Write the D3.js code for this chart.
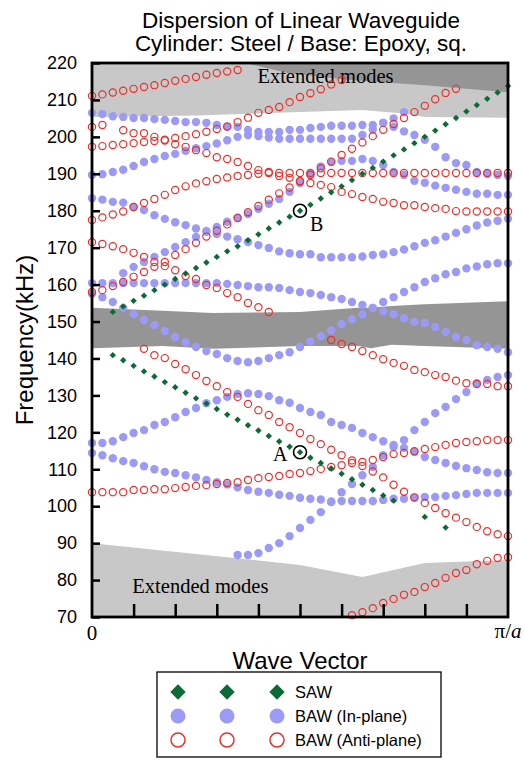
<!DOCTYPE html>
<html lang="en">
<head>
<meta charset="UTF-8">
<title>Dispersion of Linear Waveguide</title>
<script src="https://cdn.jsdelivr.net/npm/d3@7"></script>
<style>
  body { margin: 0; background: #fff; }
  svg { display: block; }
  .tick text { font-family: "Liberation Sans", Arial, sans-serif; font-size: 18px; fill: #000; }
</style>
</head>
<body>
<svg id="chart"></svg>
<script>
    /* data: frequency (kHz) of each branch, one value per k sample (k = i/40 of pi/a), null = no point */
    const span = (start, vals) => Array(start).fill(null).concat(vals);

    const yTicks = [70, 80, 90, 100, 110, 120, 130, 140, 150, 160, 170, 180, 190, 200, 210, 220];
    const xTicks = [0.1, 0.2, 0.3, 0.4, 0.5, 0.6, 0.7, 0.8, 0.9];

    /* SAW */
    const sawUpper = span(2, [152.6, 154.1, 155.6, 157.0, 158.5, 160.0, 161.5, 163.0, 164.5, 166.0, 167.5, 169.0, 170.4,
        172.0, 173.6, 175.2, 176.8, 178.4, 180.0, 181.6, 183.3, 185.0, 186.6, 188.3, 190.0, 191.6, 193.3, 195.0, 196.6,
        198.3, 200.0, 201.7, 203.4, 205.1, 206.9, 208.6, 210.3, 212.0, 213.8]);
    const sawLower = span(2, [140.9, 139.5, 138.0, 136.5, 135.1, 133.6, 132.2, 130.7, 129.2, 127.8, 126.3, 124.8, 123.4,
        121.9, 120.5, 119.0, 117.5, 116.1, 114.6, 113.1, 111.7, 110.2, 108.8, 107.3, 105.8, 104.4, 102.9, 101.5,
        null, null, 97.1, null, 94.2]);

    /* BAW in-plane */
    const inPlane1 = [114.4, 113.8, 113.0, 112.2, 111.7, 110.8, 110.0, 109.3, 109.0, 108.4, 107.8, 107.1, 106.5, 105.9,
        105.1, 104.4, 103.9, 103.6, 103.1, 102.8, 102.3, 102.0, 101.8, 101.3, 101.4, 101.4, 101.4, 101.4, 101.7, 102.0,
        102.0, 102.3, 102.5, 102.5, 102.8, 103.0, 103.3, 103.6, 103.6, 103.6, 103.6];
    const inPlane2 = [117.1, 117.1, 117.6, 118.7, 119.8, 120.6, 122.0, 122.8, 124.1, 125.5, 126.6, 127.9, 128.7, 129.6,
        130.4, 130.6, 130.4, 129.8, 128.7, 128.0, 126.6, 125.5, 124.7, 122.8, 122.0, 121.2, 119.8, 118.7, 117.6, 116.6,
        115.8, 114.7, 113.3, 112.5, 111.7, 110.9, 110.3, 109.8, 109.2, 109.0, 109.0];
    const inPlane3 = span(14, [86.8, 86.8, 87.3, 88.7, 90.0, 91.9, 94.1, 96.3, 98.4, 101.1, 103.8, 106.0, 108.4, 110.6,
        113.8, 116.0, 117.9, 120.6, 122.8, 125.2, 126.9, 129.0, 130.9, 133.3, 134.2, 135.0, 135.5]);
    const inPlane4 = [160.4, 160.4, 160.4, 160.4, 160.4, 160.4, 160.4, 160.4, 160.4, 160.4, 160.4, 160.4, 160.4, 160.2,
        159.9, 159.6, 159.3, 159.3, 159.1, 158.5, 158.0, 157.7, 157.2, 156.6, 156.1, 155.3, 154.5, 153.7, 152.8, 152.0,
        150.9, 149.9, 149.6, 148.5, 147.2, 145.8, 145.0, 143.6, 143.1, 142.6, 141.7];
    const inPlane5 = [157.5, 156.6, 155.3, 153.7, 152.0, 150.4, 149.1, 147.4, 145.8, 144.4, 143.1, 142.0, 141.2, 140.1,
        139.3, 139.0, 139.3, 140.1, 140.9, 141.7, 143.1, 144.6, 146.0, 147.6, 149.3, 150.6, 151.9, 153.7, 155.3, 156.6,
        158.0, 159.3, 160.7, 161.7, 162.8, 163.4, 164.4, 164.9, 165.5, 165.8, 165.8];
    const inPlane6 = [183.4, 183.0, 182.4, 182.2, 181.0, 180.2, 178.8, 177.8, 176.9, 176.1, 175.2, 174.5, 173.7, 173.0,
        172.3, 171.5, 170.7, 169.9, 169.0, 168.5, 168.2, 168.2, 167.4, 167.4, 167.4, 167.4, 167.6, 168.0, 168.2, 168.8,
        169.5, 170.4, 171.3, 172.0, 173.0, 174.0, 175.0, 176.0, 176.8, 177.3, 177.8];
    const inPlane7 = span(3, [163.1, 164.8, 166.1, 167.5, 168.8, 170.2, 171.5, 172.9, 174.3, 175.6, 177.0, 178.2, 179.1,
        180.5, 181.9, 183.2, 185.1, 187.5, 190.0, 192.0, 193.2, 193.5, 193.5, 194.0, 193.5, 192.4, 190.5, 189.7, 188.1,
        187.6, 186.8, 186.2, 185.7, 185.1, 184.6, 184.6, 184.3, 184.3]);
    const inPlane8 = [189.7, 189.9, 190.5, 191.1, 192.1, 193.2, 194.0, 194.8, 195.4, 196.2, 196.9, 197.5, 198.2, 199.1,
        200.0, 200.5, 200.2, 199.8, 199.5, 199.5, 199.5, 199.5, 199.5, 199.5, 199.5, 199.5, 200.5, 202.0, 203.8, 205.0,
        206.7];
    const inPlane9 = [206.5, 206.2, 205.6, 205.4, 205.1, 205.1, 204.8, 204.6, 204.3, 204.0, 204.0, 203.8, 203.2, 202.7,
        202.7, 201.9, 201.3, 201.3, 201.3, 201.9, 201.9, 202.4, 202.7, 203.0, 203.0, 203.0, 203.2, 203.2, 203.8, 202.7,
        201.5, 200.5, 199.2, 197.3, 194.5, 192.9, 192.4, 190.5, 190.0, 189.7, 189.4];

    /* BAW anti-plane */
    const antiPlane1 = [103.8, 103.8, 103.8, 103.8, 104.4, 104.4, 104.6, 104.6, 104.9, 105.2, 105.5, 105.7, 106.0, 106.3,
        106.5, 107.1, 107.6, 107.9, 108.2, 108.7, 109.0, 109.5, 110.1, 110.6, 111.1, 111.7, 112.0, 112.5, 113.3, 114.1,
        114.4, 114.9, 115.5, 116.0, 116.6, 117.1, 117.4, 117.6, 117.9, 117.9, 117.9];
    const antiPlane2 = span(5, [142.6, 140.9, 140.1, 138.5, 137.1, 135.5, 133.9, 132.5, 130.9, 129.6, 127.7, 126.0, 124.7,
        122.8, 121.4, 119.8, 118.2, 116.8, 115.3, 113.8, 112.4, 110.9, 109.4, 107.8, 105.8, 103.9, 102.4, 100.9, 99.5,
        98.1, 96.9, 95.7, 94.4, 93.2, 92.4, 91.9]);
    const antiPlane3 = span(25, [70.5, 71.3, 72.4, 73.8, 74.9, 76.0, 76.8, 78.1, 79.2, 80.6, 81.9, 82.7, 84.3, 85.2,
        86.0, 86.2]);
    const antiPlane4 = span(23, [145.0, 143.9, 143.1, 142.0, 140.9, 139.8, 138.8, 138.0, 136.9, 136.3, 135.5, 135.0,
        134.0, 133.3, 133.1, 133.1, 132.5, 132.5]);
    const antiPlane5 = [171.5, 171.0, 170.4, 169.6, 168.6, 167.5, 166.1, 165.0, 163.9, 162.3, 161.5, 159.9, 159.1, 157.7,
        156.6, 155.0, 153.9, 152.6];
    const antiPlane6 = [158.0, 158.5, 159.6, 160.7, 162.1, 163.4, 164.8, 166.1, 168.0, 169.6, 171.3, 173.0, 174.6, 176.3,
        178.0, 179.6, 181.3, 183.0, 184.7, 186.3, 188.0, 189.7, 191.5, 193.3, 195.1, 196.8, 198.5, 200.2, 201.9, 203.5,
        205.1, 206.7, 208.4, 210.2, 211.9, 213.0];
    const antiPlane7 = [177.5, 178.2, 179.0, 179.8, 181.0, 182.1, 183.2, 184.3, 185.6, 186.6, 187.4, 188.0, 188.6, 189.0,
        189.4, 189.7, 190.0, 190.2, 190.2, 190.2, 190.2, 190.2, 190.2, 190.2, 190.2, 190.2, 190.2, 190.2, 190.2, 190.2,
        190.2, 190.2, 190.2, 190.2, 190.2, 190.2, 190.2, 190.2, 190.2, 190.2, 190.2];
    const antiPlane8 = [202.7, 203.2, null, 201.8, 201.0, 201.0, 200.0, 199.0, 198.0, 197.3, 196.4, 195.6, 194.5, 194.0,
        193.2, 192.1, 191.0, 190.5, 189.4, 188.9, 188.0, 187.5, 187.0, 186.4, 185.1, 184.5, 183.7, 183.2, 182.4, 182.1,
        181.5, 181.5, 181.0, 180.7, 180.5, 179.9, 179.8, 179.8, 179.8, 179.8, 179.8];
    const antiPlane9 = [197.3, 197.5, 197.8, 198.0, 198.3, 198.6, 198.9, 199.2, 199.7, 200.2, 200.7, 201.4, 202.1, 202.8,
        204.0, 205.2, 206.5, 207.3, 208.1, 209.4, 210.8, 211.8, 212.9, 214.2, 215.4];
    const antiPlane10 = [211.1, 211.5, 212.0, 212.5, 213.0, 213.5, 214.0, 214.6, 215.2, 215.7, 216.2, 216.8, 217.3, 217.7, 218.1];

    /* shaded "extended modes" regions: [k, lower f, upper f] */
    const extTopLight = [[0, 205.4, 220], [0.25, 205.8, 220], [0.5, 206.7, 220], [0.65, 207.3, 220], [0.75, 206.3, 220],
        [0.8, 205.4, 220], [1, 205.2, 220]];
    const extTopDark = [[0.37, 220, 220], [0.47, 217.3, 220], [0.62, 215.4, 220], [0.8, 214.0, 220], [1, 212.1, 220]];
    const gapBand = [[0, 142.8, 153.7], [0.17, 143.4, 152.9], [0.29, 142.6, 152.3], [0.5, 143.4, 152.6],
        [0.64, 143.4, 153.7], [0.67, 142.8, 153.7], [0.72, 143.7, 154.2], [0.8, 143.4, 154.7], [1, 142.6, 155.5]];
    const extBottom = [[0, 70, 90.0], [0.5, 70, 84.1], [0.65, 70, 80.8], [0.8, 70, 84.6], [1, 70, 85.4]];

    const sawBranches = [sawUpper, sawLower];
    const inPlaneBranches = [inPlane1, inPlane2, inPlane3, inPlane4, inPlane5, inPlane6, inPlane7, inPlane8, inPlane9];
    const antiPlaneBranches = [antiPlane1, antiPlane2, antiPlane3, antiPlane4, antiPlane5, antiPlane6, antiPlane7,
        antiPlane8, antiPlane9, antiPlane10];

    /* marked modes */
    const marks = [{name: "A", k: 0.5, f: 114.6, dx: -27, dy: 9}, {name: "B", k: 0.5, f: 180.0, dx: 10, dy: 20}];

    /* layout */
    const width = 525;
    const height = 762;
    const plot = {left: 92, right: 508, top: 63, bottom: 617};

    const blue = "#9b9bf7";
    const red = "#e8302c";
    const green = "#0b6a35";

    const svg = d3.select("#chart").attr("width", width).attr("height", height);

    const x = d3.scaleLinear().domain([0, 1]).range([plot.left, plot.right]);
    const y = d3.scaleLinear().domain([70, 220]).range([plot.bottom, plot.top]);

    const toPoints = (branch) => branch
        .map((f, i) => ({k: i / 40, f}))
        .filter(d => d.f !== null);

    /* shaded regions */
    const area = d3.area().x(d => x(d[0])).y0(d => y(d[1])).y1(d => y(d[2]));
    svg.append("path").attr("d", area(extTopLight)).attr("fill", "#c8c8c8");
    svg.append("path").attr("d", area(extTopDark)).attr("fill", "#959595");
    svg.append("path").attr("d", area(gapBand)).attr("fill", "#959595");
    svg.append("path").attr("d", area(extBottom)).attr("fill", "#c8c8c8");

    const serif = "'Liberation Serif', 'Times New Roman', serif";
    const sans = "'Liberation Sans', Arial, sans-serif";

    svg.append("text").attr("x", x(0.4) - 1).attr("y", y(214.5))
        .attr("font-family", serif).attr("font-size", 20.5).text("Extended modes");
    svg.append("text").attr("x", x(0.097)).attr("y", y(76.5))
        .attr("font-family", serif).attr("font-size", 20.5).text("Extended modes");

    /* in-plane points */
    inPlaneBranches.forEach(b => {
        svg.append("g").selectAll("circle").data(toPoints(b)).join("circle")
            .attr("cx", d => x(d.k)).attr("cy", d => y(d.f)).attr("r", 4.2)
            .attr("fill", blue);
    });

    /* anti-plane points */
    antiPlaneBranches.forEach(b => {
        svg.append("g").selectAll("circle").data(toPoints(b)).join("circle")
            .attr("cx", d => x(d.k)).attr("cy", d => y(d.f)).attr("r", 3.6)
            .attr("fill", "none").attr("stroke", red).attr("stroke-width", 1.2);
    });

    /* SAW points */
    const diamond = d3.symbol().type(d3.symbolDiamond2).size(26);
    sawBranches.forEach(b => {
        svg.append("g").selectAll("path").data(toPoints(b)).join("path")
            .attr("transform", d => `translate(${x(d.k)},${y(d.f)})`)
            .attr("d", diamond).attr("fill", green);
    });

    /* A / B markers */
    marks.forEach(m => {
        svg.append("circle").attr("cx", x(m.k)).attr("cy", y(m.f)).attr("r", 6.5)
            .attr("fill", "none").attr("stroke", "#000").attr("stroke-width", 1.6);
        svg.append("text").attr("x", x(m.k) + m.dx).attr("y", y(m.f) + m.dy)
            .attr("font-family", serif).attr("font-size", 20).text(m.name);
    });

    /* axes */
    const yAxis = svg.append("g").attr("transform", `translate(${plot.left},0)`)
        .call(d3.axisLeft(y).tickValues(yTicks).tickSize(-8).tickPadding(15));
    yAxis.select(".domain").remove();
    yAxis.selectAll(".tick line").attr("stroke", "#000").attr("stroke-width", 2.5);

    const xAxis = svg.append("g").attr("transform", `translate(0,${plot.bottom})`)
        .call(d3.axisBottom(x).tickValues(xTicks).tickSize(-13).tickFormat(""));
    xAxis.select(".domain").remove();
    xAxis.selectAll(".tick line").attr("stroke", "#000").attr("stroke-width", 2.5);

    svg.append("rect").attr("x", plot.left).attr("y", plot.top)
        .attr("width", plot.right - plot.left).attr("height", plot.bottom - plot.top)
        .attr("fill", "none").attr("stroke", "#000").attr("stroke-width", 2.8);

    svg.append("text").attr("x", x(0)).attr("y", 640).attr("text-anchor", "middle")
        .attr("font-family", serif).attr("font-size", 21).text("0");
    const piLabel = svg.append("text").attr("x", x(1)).attr("y", 638).attr("text-anchor", "middle")
        .attr("font-family", serif).attr("font-size", 21);
    piLabel.append("tspan").text("\u03c0/");
    piLabel.append("tspan").attr("font-style", "italic").text("a");

    /* titles */
    svg.append("text").attr("x", 301).attr("y", 28).attr("text-anchor", "middle")
        .attr("font-family", sans).attr("font-size", 22.5).text("Dispersion of Linear Waveguide");
    svg.append("text").attr("x", 301).attr("y", 51).attr("text-anchor", "middle")
        .attr("font-family", sans).attr("font-size", 22.5).text("Cylinder: Steel / Base: Epoxy, sq.");
    svg.append("text").attr("x", 300).attr("y", 669).attr("text-anchor", "middle")
        .attr("font-family", sans).attr("font-size", 24).text("Wave Vector");
    svg.append("text").attr("transform", `translate(33,${(plot.top + plot.bottom) / 2}) rotate(-90)`)
        .attr("text-anchor", "middle").attr("font-family", sans).attr("font-size", 24).text("Frequency(kHz)");

    /* legend */
    const legendItems = ["SAW", "BAW (In-plane)", "BAW (Anti-plane)"];
    const legend = svg.append("g");
    legend.append("rect").attr("x", 157).attr("y", 672).attr("width", 284).attr("height", 85)
        .attr("fill", "#fff").attr("stroke", "#000").attr("stroke-width", 1.3);
    const bigDiamond = d3.symbol().type(d3.symbolDiamond2).size(150);
    legendItems.forEach((label, row) => {
        const ly = 692 + row * 24;
        [178, 227, 277].forEach(lx => {
            if (row === 0) {
                legend.append("path").attr("transform", `translate(${lx},${ly})`).attr("d", bigDiamond).attr("fill", green);
            } else if (row === 1) {
                legend.append("circle").attr("cx", lx).attr("cy", ly).attr("r", 7.5).attr("fill", blue);
            } else {
                legend.append("circle").attr("cx", lx).attr("cy", ly).attr("r", 7)
                    .attr("fill", "none").attr("stroke", red).attr("stroke-width", 1.5);
            }
        });
        legend.append("text").attr("x", 295).attr("y", ly + 6)
            .attr("font-family", sans).attr("font-size", 16.5).text(label);
    });
</script>
</body>
</html>
